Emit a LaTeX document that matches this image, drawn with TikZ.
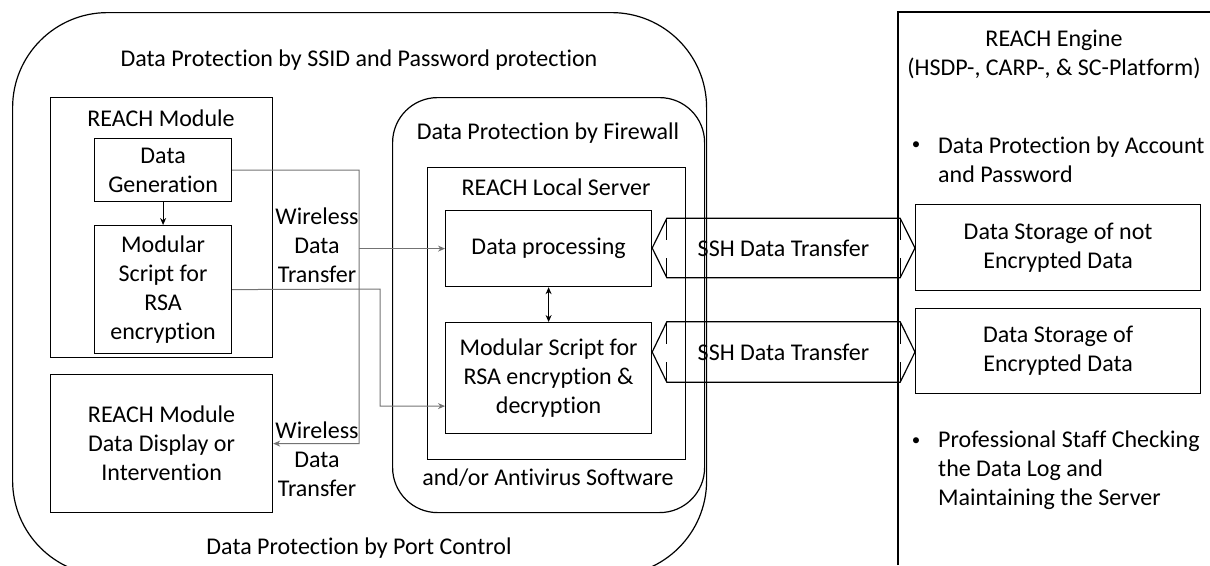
\documentclass[tikz,border=0pt]{standalone}
\usepackage{fontspec}
\setmainfont{Carlito}[Ligatures=NoCommon]
\usetikzlibrary{arrows.meta,positioning,calc}
\tikzset{
  box/.style={draw, line width=1.2pt, align=center, inner sep=2pt},
  zone/.style={draw, line width=1.2pt},
  wire/.style={-{Stealth[length=7pt,width=6pt]}, line width=1pt, black!55},
  link/.style={{Stealth[length=7pt,width=6pt]}-{Stealth[length=7pt,width=6pt]}, line width=1pt},
  lbl/.style={align=center, inner sep=0pt},
  dot/.style={inner sep=0pt, font=\fontsize{17}{20}\selectfont},
  pipe/.style={line width=1.2pt, line join=miter},
  notch/.style={line width=0.8pt},
}

\begin{document}
\begin{tikzpicture}[x=1pt, y=-1pt, font=\fontsize{24}{29}\selectfont]
\useasboundingbox (0,0) rectangle (1210,565);
\clip (0,0) rectangle (1210,565);
% outer zone: wireless network
\node[zone, rounded corners=95pt, minimum width=694, minimum height=563, anchor=north west] (wlan) at (12,12) {};
\node[lbl] (wlantop) at (359,60) {Data Protection by SSID and Password protection};
\node[lbl] (wlanbot) at (359,548) {Data Protection by Port Control};
% module side
\node[box, minimum width=222, minimum height=260, anchor=north west] (module) at (50,97) {};
\node[lbl] (moduletitle) at (161,118) {REACH Module};
\node[box, minimum width=137, minimum height=63, anchor=north west] (gen) at (94,138) {Data\\Generation};
\node[box, minimum width=137, minimum height=128, anchor=north west] (enc) at (94,225) {Modular\\Script for\\RSA\\encryption};
\node[box, minimum width=222, minimum height=138, anchor=north west] (display) at (50,374) {REACH Module\\Data Display or\\Intervention};
\draw[link, -{Stealth[length=7pt,width=6pt]}] (gen) -- (enc);
% wireless labels
\node[lbl] (air1) at (317,245) {Wireless\\Data\\Transfer};
\node[lbl] (air2) at (317,459) {Wireless\\Data\\Transfer};
% firewall and local server
\node[zone, rounded corners=45pt, minimum width=312, minimum height=415, anchor=north west] (firewall) at (392,97) {};
\node[lbl] (fwtop) at (548,133) {Data Protection by Firewall};
\node[lbl] (fwbot) at (548,478) {and/or Antivirus Software};
\node[box, minimum width=258, minimum height=292, anchor=north west] (server) at (427,167) {};
\node[lbl] (servertitle) at (556,187) {REACH Local Server};
\node[box, minimum width=206, minimum height=76, anchor=north west] (proc) at (445,210) {Data processing};
\node[box, minimum width=206, minimum height=111, anchor=north west] (crypt) at (445,322) {Modular Script for\\RSA encryption \&\\decryption};
\draw[link] (proc) -- (crypt);
% wireless lines
\coordinate (busA) at (359,170);
\coordinate (busB) at (380,289);
\draw[wire] (gen.east) -- (busA) |- (display.east);
\draw[wire] (busA |- proc.west) -- (proc.west);
\draw[wire] (enc.east) -- (busB) |- ([yshift=-28pt]crypt.west);
% REACH engine
\draw[zone] (898,565) -- (898,12) -- (1210,12);
\node[lbl] (engine) at (1054,54) {REACH Engine\\(HSDP-, CARP-, \& SC-Platform)};
\node[dot] (dot1) at (916,146) {\textbullet};
\node[lbl, align=left, anchor=west] (acct) at (938,160) {Data Protection by Account\\and Password};
\node[box, minimum width=285, minimum height=86, anchor=north west] (store1) at (915,204) {Data Storage of not\\Encrypted Data};
\node[box, minimum width=285, minimum height=85, anchor=north west] (store2) at (915,308) {Data Storage of\\Encrypted Data};
\node[dot] (dot2) at (916,442) {\textbullet};
\node[lbl, align=left, anchor=west] (staff) at (938,470.5) {Professional Staff Checking\\the Data Log and\\Maintaining the Server};
% SSH block arrows
\node[lbl, minimum width=233, minimum height=59] (ssh1) at (783.5,248) {SSH Data Transfer};
\node[lbl, minimum width=233, minimum height=60] (ssh2) at (783.5,352) {SSH Data Transfer};
\foreach \s/\a/\b in {ssh1/proc/store1, ssh2/crypt/store2} {
  \draw[pipe] (\s.west -| \a.east) -- (\s.north west) -- (\s.north east)
    -- (\s.east -| \b.west) -- (\s.south east) -- (\s.south west) -- cycle;
  \draw[notch] (\s.north west) -- ++(0,22) (\s.south west) -- ++(0,-20)
    (\s.north east) -- ++(0,22) (\s.south east) -- ++(0,-20);
}
\end{tikzpicture}
\end{document}
